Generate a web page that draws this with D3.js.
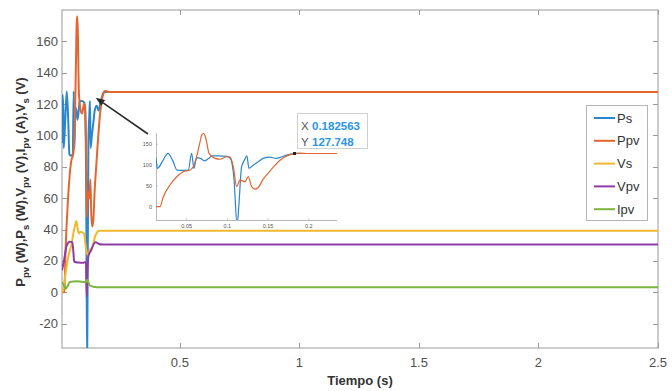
<!DOCTYPE html>
<html>
<head>
<meta charset="utf-8">
<script src="https://cdn.jsdelivr.net/npm/d3@7"></script>
<style>
  html, body { margin: 0; padding: 0; background: #fff; }
  svg { display: block; font-family: "Liberation Sans", Arial, Helvetica, sans-serif; }
</style>
</head>
<body>
<svg id="chart" width="672" height="391"></svg>
<script>
// ---- Series data (time in seconds) ----
const psT  = [0.007, 0.0095, 0.0123, 0.014, 0.02, 0.027, 0.033, 0.038, 0.045, 0.052, 0.056, 0.059, 0.0622, 0.067, 0.072, 0.077, 0.081, 0.09, 0.1, 0.104, 0.108, 0.112, 0.114, 0.1175, 0.121, 0.124, 0.1265, 0.132, 0.138, 0.144, 0.152, 0.16, 0.167, 0.173, 0.18, 0.182563, 0.19, 2.5];
const psV  = [95, 126, 116, 92, 108, 128, 110, 88, 87, 88, 128, 92, 118, 116, 110, 116, 122, 122, 121, 115, 70, -45, 0, 96, 112, 122, 92, 100, 108, 116, 119, 116, 120, 124, 127, 127.748, 127.7, 127.7];

const ppvT = [0.007, 0.0123, 0.0172, 0.0213, 0.0295, 0.0377, 0.0459, 0.054, 0.0581, 0.0622, 0.066, 0.0685, 0.071, 0.0735, 0.0775, 0.0848, 0.0909, 0.0991, 0.1032, 0.1073, 0.1114, 0.1155, 0.1216, 0.1257, 0.1298, 0.134, 0.138, 0.144, 0.15, 0.157, 0.165, 0.173, 0.181, 0.188, 0.2, 2.5];
const ppvV = [0, 0, 0, 24, 52, 72, 84, 88, 96, 120, 152, 172, 176, 164, 128, 116, 114, 120, 119, 96, 48, 64, 60, 72, 48, 42, 46, 66, 80, 96, 112, 122, 127, 128.5, 127.7, 127.7];

const vsT  = [0.007, 0.011, 0.02, 0.03, 0.04, 0.046, 0.055, 0.062, 0.067, 0.072, 0.077, 0.082, 0.088, 0.094, 0.099, 0.104, 0.109, 0.116, 0.123, 0.13, 0.137, 0.144, 0.151, 0.157, 0.165, 2.5];
const vsV  = [0, 1, 10, 20, 27, 30, 38, 43, 45.5, 41, 37.5, 38.5, 38.5, 38, 37.5, 32, 26.8, 23, 26.8, 28, 30, 35, 37.5, 39, 39.2, 39.2];

const vpvT = [0.007, 0.015, 0.027, 0.04, 0.05, 0.054, 0.058, 0.075, 0.095, 0.107, 0.1105, 0.113, 0.118, 0.129, 0.14, 0.148, 0.16, 0.175, 2.5];
const vpvV = [14, 20, 30, 32.2, 32, 27, 19.5, 19, 18.8, 19.4, -3, 12, 23.6, 26.8, 31, 32, 31, 30.5, 30.5];

const ipvT = [0.007, 0.015, 0.023, 0.032, 0.04, 0.07, 0.108, 0.112, 0.123, 0.144, 0.16, 2.5];
const ipvV = [6.6, 4.5, 2.3, 4.5, 6.6, 7, 6.6, 8, 4.5, 3.4, 3.2, 3.2];

const seriesNames  = ["Ps", "Ppv", "Vs", "Vpv", "Ipv"];
const seriesColors = ["#2a86cf", "#e4662f", "#f0b92c", "#8e3ea3", "#7db43c"];
const seriesData = [
  d3.zip(psT, psV), d3.zip(ppvT, ppvV), d3.zip(vsT, vsV),
  d3.zip(vpvT, vpvV), d3.zip(ipvT, ipvV)
];

const xTicks = [0.5, 1, 1.5, 2, 2.5];
const yTicks = [-20, 0, 20, 40, 60, 80, 100, 120, 140, 160];
const insetXTicks = [0.05, 0.1, 0.15, 0.2];
const insetYTicks = [0, 50, 100, 150];

// Highlighted data point
const tipX = 0.182563, tipY = 127.748;
// Arrow tip on the main axes (data units)
const arrowTipT = 0.148, arrowTipV = 124;

// ---- Layout ----
const svg = d3.select("#chart");
const L = 62, R = 658, T = 10, B = 348;
const x = d3.scaleLinear().domain([0.007, 2.5]).range([L, R]);
const y = d3.scaleLinear().domain([-35.5, 180]).range([B, T]);

const axisColor = "#9a9a9a";
const textColor = "#505050";

svg.append("defs").append("clipPath").attr("id", "mainClip")
  .append("rect").attr("x", L).attr("y", T).attr("width", R - L).attr("height", B - T);

// Axes box
svg.append("rect").attr("x", L).attr("y", T).attr("width", R - L).attr("height", B - T)
  .attr("fill", "#fff").attr("stroke", axisColor).attr("stroke-width", 1);

const tickLen = 5;
const gTicks = svg.append("g").attr("stroke", axisColor).attr("stroke-width", 1);
xTicks.forEach(v => {
  const px = Math.round(x(v)) + 0.5;
  gTicks.append("line").attr("x1", px).attr("x2", px).attr("y1", B).attr("y2", B - tickLen);
  gTicks.append("line").attr("x1", px).attr("x2", px).attr("y1", T).attr("y2", T + tickLen);
});
yTicks.forEach(v => {
  const py = Math.round(y(v)) + 0.5;
  gTicks.append("line").attr("x1", L).attr("x2", L + tickLen).attr("y1", py).attr("y2", py);
  gTicks.append("line").attr("x1", R).attr("x2", R - tickLen).attr("y1", py).attr("y2", py);
});

// Tick labels
svg.append("g").selectAll("text").data(xTicks).join("text")
  .attr("x", d => x(d)).attr("y", B + 19)
  .attr("text-anchor", "middle").attr("font-size", 13).attr("fill", textColor)
  .text(d => d3.format("")(d));
svg.append("g").selectAll("text").data(yTicks).join("text")
  .attr("x", L - 4).attr("y", d => y(d) + 4.5)
  .attr("text-anchor", "end").attr("font-size", 13).attr("fill", textColor)
  .text(d => d);

// Axis titles
svg.append("text").attr("x", (L + R) / 2).attr("y", 385)
  .attr("text-anchor", "middle").attr("font-size", 13).attr("font-weight", "bold")
  .attr("fill", "#333").text("Tiempo (s)");

const yl = svg.append("text")
  .attr("transform", "translate(25," + 182 + ") rotate(-90)")
  .attr("text-anchor", "middle").attr("font-size", 13).attr("font-weight", "bold")
  .attr("fill", "#333");
const ylParts = [["P", "pv", " (W),"], ["P", "s", " (W),"], ["V", "pv", " (V),"], ["I", "pv", " (A),"], ["V", "s", " (V)"]];
ylParts.forEach(p => {
  yl.append("tspan").text(p[0]);
  yl.append("tspan").attr("font-size", 9.5).attr("dy", 4).text(p[1]);
  yl.append("tspan").attr("dy", -4).text(p[2]);
});

// ---- Series lines ----
const line = d3.line().x(d => x(d[0])).y(d => y(d[1])).curve(d3.curveMonotoneX);
const gLines = svg.append("g").attr("clip-path", "url(#mainClip)");
seriesData.forEach((data, i) => {
  gLines.append("path").datum(data).attr("d", line)
    .attr("fill", "none").attr("stroke", seriesColors[i])
    .attr("stroke-width", 2).attr("stroke-linejoin", "round");
});

// ---- Legend ----
const lg = svg.append("g");
lg.append("rect").attr("x", 586.5).attr("y", 105.5).attr("width", 61).attr("height", 115)
  .attr("fill", "#fff").attr("stroke", "#b5b5b5");
seriesNames.forEach((name, i) => {
  const ly = 118 + i * 22.8;
  lg.append("line").attr("x1", 594).attr("x2", 615).attr("y1", ly).attr("y2", ly)
    .attr("stroke", seriesColors[i]).attr("stroke-width", 2);
  lg.append("text").attr("x", 617).attr("y", ly + 4.5).attr("font-size", 13)
    .attr("fill", "#333").text(name);
});

// ---- Inset (zoom on the start-up transient of Ps and Ppv) ----
const iL = 156, iR = 337, iT = 133, iB = 220;
const ix = d3.scaleLinear().domain([0.0123, 0.2347]).range([iL, iR]);
const iy = d3.scaleLinear().domain([-32, 177]).range([iB, iT]);

svg.append("rect").attr("x", 142).attr("y", 127).attr("width", 202).attr("height", 101).attr("fill", "#fff");
svg.select("defs").append("clipPath").attr("id", "insetClip")
  .append("rect").attr("x", iL).attr("y", iT).attr("width", iR - iL).attr("height", iB - iT);

const ig = svg.append("g");
ig.append("line").attr("x1", iL + 0.5).attr("x2", iL + 0.5).attr("y1", iT).attr("y2", iB)
  .attr("stroke", "#a8a8a8").attr("stroke-width", 0.8);
ig.append("line").attr("x1", iL).attr("x2", iR).attr("y1", iB + 0.5).attr("y2", iB + 0.5)
  .attr("stroke", "#a8a8a8").attr("stroke-width", 0.8);
insetXTicks.forEach(v => {
  ig.append("line").attr("x1", ix(v)).attr("x2", ix(v)).attr("y1", iB).attr("y2", iB - 2)
    .attr("stroke", "#a8a8a8").attr("stroke-width", 0.6);
  ig.append("text").attr("x", ix(v)).attr("y", iB + 7.5).attr("text-anchor", "middle")
    .attr("font-size", 5.5).attr("fill", "#555").text(v);
});
insetYTicks.forEach(v => {
  ig.append("line").attr("x1", iL).attr("x2", iL + 2).attr("y1", iy(v)).attr("y2", iy(v))
    .attr("stroke", "#a8a8a8").attr("stroke-width", 0.6);
  ig.append("text").attr("x", iL - 4).attr("y", iy(v) + 2).attr("text-anchor", "end")
    .attr("font-size", 5.5).attr("fill", "#555").text(v);
});
const iline = d3.line().x(d => ix(d[0])).y(d => iy(d[1])).curve(d3.curveMonotoneX);
const igl = ig.append("g").attr("clip-path", "url(#insetClip)");
[0, 1].forEach(i => {
  igl.append("path").datum(seriesData[i]).attr("d", iline)
    .attr("fill", "none").attr("stroke", seriesColors[i]).attr("stroke-width", 1.2);
});
ig.append("rect").attr("x", ix(tipX) - 1.5).attr("y", iy(tipY) - 1.5)
  .attr("width", 3).attr("height", 3).attr("fill", "#222");

// Data tip box
const dt = svg.append("g");
dt.append("rect").attr("x", 297.5).attr("y", 113.5).attr("width", 70).attr("height", 35)
  .attr("fill", "#fff").attr("fill-opacity", 0.92).attr("stroke", "#d0d0d0");
dt.append("text").attr("x", 301).attr("y", 129.5).attr("font-size", 11.5).attr("fill", "#555").text("X");
dt.append("text").attr("x", 312).attr("y", 129.5).attr("font-size", 11.5).attr("font-weight", "bold")
  .attr("fill", "#2b95e6").text(tipX);
dt.append("text").attr("x", 301).attr("y", 146).attr("font-size", 11.5).attr("fill", "#555").text("Y");
dt.append("text").attr("x", 312).attr("y", 146).attr("font-size", 11.5).attr("font-weight", "bold")
  .attr("fill", "#2b95e6").text(tipY);

// Arrow from the inset to the corresponding region of the main axes
const ax0 = iL - 8, ay0 = iT + 1;
const ax1 = x(arrowTipT), ay1 = y(arrowTipV);
const ang = Math.atan2(ay1 - ay0, ax1 - ax0);
const hl = 9, hw = 3.5;
const bx = ax1 - hl * Math.cos(ang), by = ay1 - hl * Math.sin(ang);
svg.append("line").attr("x1", ax0).attr("y1", ay0).attr("x2", bx).attr("y2", by)
  .attr("stroke", "#2a2a2a").attr("stroke-width", 1.6);
svg.append("path")
  .attr("d", `M${ax1},${ay1} L${bx + hw * Math.sin(ang)},${by - hw * Math.cos(ang)} L${bx - hw * Math.sin(ang)},${by + hw * Math.cos(ang)} Z`)
  .attr("fill", "#2a2a2a");
</script>
</body>
</html>
